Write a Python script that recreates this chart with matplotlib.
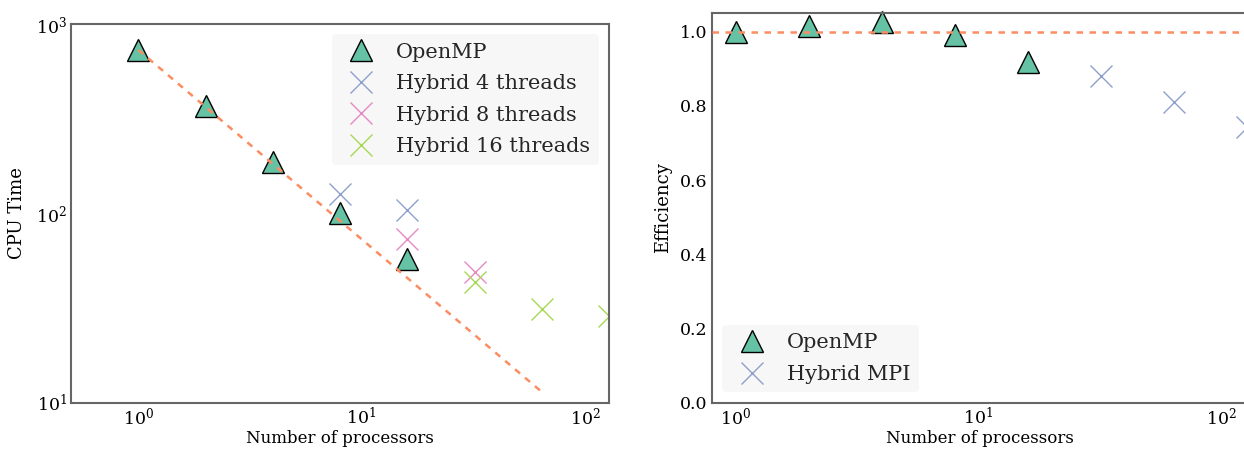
import matplotlib
matplotlib.use("Agg")
import matplotlib.pyplot as plt
import numpy as np

# Timings (seconds) and parallel efficiency
openmp_procs = [1, 2, 4, 8, 16]
openmp_time = [730, 371, 186, 100, 57.5]
openmp_eff = [1.0, 1.016, 1.027, 0.99, 0.919]

hybrid4_procs = [8, 16]
hybrid4_time = [126, 104]
hybrid8_procs = [16, 32]
hybrid8_time = [73, 49]
hybrid16_procs = [32, 64, 128]
hybrid16_time = [43.5, 31.3, 28.7]

mpi_procs = [32, 64, 128]
mpi_eff = [0.88, 0.81, 0.744]

ideal_procs = [1, 64]

green = "#66c2a5"
orange = "#fc8d62"
blue = "#8da0cb"
pink = "#e78ac3"
lime = "#a6d854"
spine_grey = "0.4"

plt.rcParams["font.family"] = "DejaVu Serif"
plt.rcParams["mathtext.fontset"] = "dejavuserif"

W, H = 1244, 449
fig = plt.figure(figsize=(W / 100, H / 100), dpi=100)


def px_axes(left, top, right, bottom):
    return fig.add_axes([left / W, 1 - bottom / H, (right - left) / W, (bottom - top) / H])


def style_axes(ax):
    for side in ax.spines.values():
        side.set_color(spine_grey)
        side.set_linewidth(1.5)
    ax.tick_params(which="both", length=0, labelsize=12.5, pad=3, colors="black")


def add_legend(ax, loc):
    leg = ax.legend(loc=loc, fontsize=15, frameon=True, numpoints=1,
                    labelspacing=0.6, handletextpad=0.7)
    leg.get_frame().set_facecolor("0.97")
    leg.get_frame().set_edgecolor("none")
    leg.get_frame().set_alpha(1.0)
    for t in leg.get_texts():
        t.set_color("0.15")
    return leg


tri_kw = dict(linestyle="none", marker="^", markersize=15.5, markerfacecolor=green,
              markeredgecolor="black", markeredgewidth=1.0)
x_kw = dict(linestyle="none", marker="x", markersize=16, markeredgewidth=1.0)
dash_kw = dict(color=orange, linewidth=1.8, linestyle=(0, (2.6, 2.6)), zorder=5)

# CPU time panel
ax1 = px_axes(71, 24, 609, 402.7)
ax1.set_xscale("log")
ax1.set_yscale("log")
ax1.plot(openmp_procs, openmp_time, label="OpenMP", **tri_kw)
ax1.plot(hybrid4_procs, hybrid4_time, color=blue, label="Hybrid 4 threads", **x_kw)
ax1.plot(hybrid8_procs, hybrid8_time, color=pink, label="Hybrid 8 threads", **x_kw)
ax1.plot(hybrid16_procs, hybrid16_time, color=lime, label="Hybrid 16 threads", **x_kw)
ideal_time = openmp_time[0] / np.array(ideal_procs, dtype=float)
ax1.plot(ideal_procs, ideal_time, **dash_kw)
ax1.set_xlim(0.5, 128)
ax1.set_ylim(10, 1000)
ax1.set_xlabel("Number of processors", fontsize=12, labelpad=1)
ax1.set_ylabel("CPU Time", fontsize=13, labelpad=7)
style_axes(ax1)
add_legend(ax1, "upper right")

# Efficiency panel
ax2 = px_axes(712, 13, 1247, 402.7)
ax2.set_xscale("log")
ax2.plot(openmp_procs, openmp_eff, label="OpenMP", clip_on=False, **tri_kw)
ax2.plot(mpi_procs, mpi_eff, color=blue, label="Hybrid MPI", **x_kw)
ax2.axhline(1.0, **dash_kw)
ax2.set_xlim(0.8, 128)
ax2.set_ylim(0, 1.05)
ax2.set_yticks([0.0, 0.2, 0.4, 0.6, 0.8, 1.0])
ax2.set_xlabel("Number of processors", fontsize=12, labelpad=1)
ax2.set_ylabel("Efficiency", fontsize=13, labelpad=6)
style_axes(ax2)
add_legend(ax2, "lower left")

fig.savefig("out.png", dpi=100)
